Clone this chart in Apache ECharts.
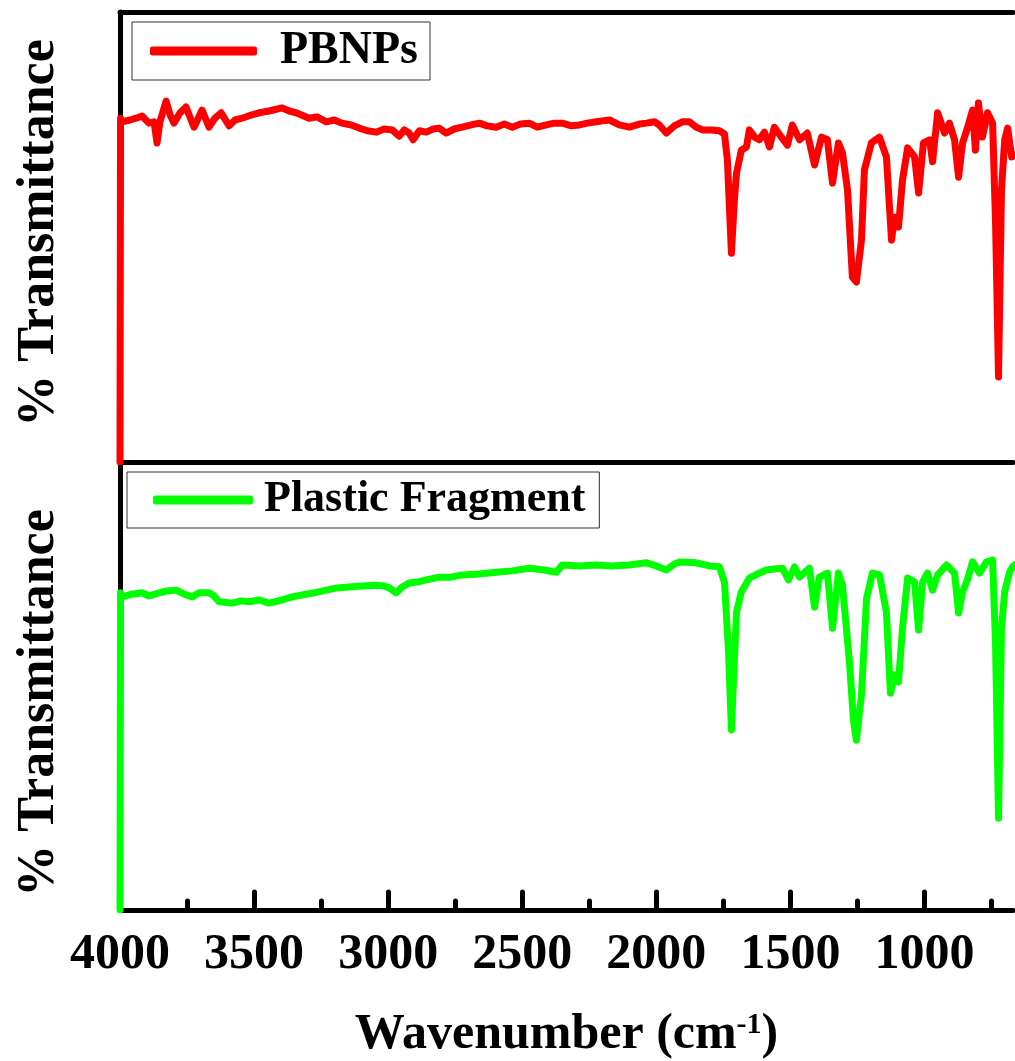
<!DOCTYPE html>
<html lang="en">
<head>
    <meta charset="UTF-8">
    <title>FTIR</title>
    <script src="https://cdn.jsdelivr.net/npm/echarts@6.0.0/dist/echarts.min.js"></script>
    <style>
        html, body { margin: 0; padding: 0; background: #fff; }
    </style>
</head>
<body>
    <div id="graph" style="width: 1015px; height: 1061px;"></div>

    <script>
        // x positions of the two spectra (cm-1)
        var pbnpWn = [4000,3998,3993,3963,3940,3918,3892,3873,3862,3851,3828,3813,3799,3776,3754,3724,3694,3668,3646,3623,3593,3571,3545,3511,3481,3444,3396,3369,3343,3295,3265,3231,3201,3172,3138,3108,3078,3045,3015,2985,2959,2940,2922,2907,2884,2858,2832,2810,2784,2754,2724,2690,2660,2631,2597,2567,2537,2507,2474,2444,2410,2381,2351,2317,2287,2257,2224,2201,2175,2138,2101,2063,2037,2007,1989,1963,1933,1903,1877,1851,1828,1795,1765,1746,1735,1720,1709,1701,1683,1664,1653,1634,1616,1597,1578,1560,1534,1511,1493,1466,1437,1410,1384,1362,1343,1321,1306,1287,1269,1254,1235,1224,1198,1168,1142,1123,1112,1097,1082,1063,1037,1022,1004,981,970,951,925,907,888,873,858,840,821,810,799,784,765,746,735,724,713,701,690,675,664];
        var pbnpT = [0,76.4,75.6,76.0,76.4,76.9,75.3,75.6,70.9,75.6,80.2,77.1,75.3,77.6,78.9,74.4,78.2,74.4,76.4,77.6,74.7,76.0,76.4,77.1,77.6,78.0,78.7,78.0,77.6,76.4,76.7,75.6,76.0,75.3,74.9,74.2,73.6,73.3,74.0,73.8,72.4,73.8,73.1,71.6,73.6,73.3,74.0,74.2,73.1,74.0,74.4,74.9,75.3,74.7,74.4,75.1,74.4,75.1,75.3,74.4,74.9,75.3,75.3,74.7,74.9,75.3,75.6,75.8,76.0,74.9,74.4,75.1,75.3,75.6,74.9,73.1,74.7,75.6,75.6,74.4,73.8,73.8,73.6,72.9,67.1,46.4,58.2,64.2,69.3,70.0,73.8,72.2,71.6,73.3,70.0,74.4,72.2,70.4,74.9,71.6,73.1,66.0,72.2,71.6,62.0,70.9,68.7,60.4,41.1,40.0,49.3,64.9,70.9,72.2,67.8,49.3,54.4,52.2,62.7,69.8,67.8,59.8,70.9,71.6,66.7,77.6,73.1,75.3,71.6,63.3,70.9,74.2,78.2,69.3,79.8,72.2,77.6,75.3,53.1,18.9,60.4,71.6,74.2,67.8,68.2];

        var fragWn = [4000,3998,3993,3955,3918,3892,3854,3825,3791,3761,3731,3705,3668,3649,3631,3582,3549,3519,3481,3444,3396,3358,3321,3276,3231,3190,3146,3097,3045,3015,2996,2970,2948,2922,2892,2858,2810,2765,2724,2660,2597,2537,2474,2418,2373,2351,2287,2224,2164,2101,2037,2000,1963,1933,1914,1851,1802,1765,1746,1731,1720,1709,1701,1683,1653,1623,1590,1560,1530,1507,1485,1466,1429,1410,1392,1362,1343,1321,1306,1280,1265,1254,1235,1216,1194,1168,1142,1127,1112,1097,1082,1063,1037,1022,1007,989,970,951,918,888,873,858,840,821,795,769,746,735,724,713,701,683,672,664];
        var fragT = [0,70.8,69.9,70.5,70.8,70.1,70.8,71.2,71.4,70.5,69.9,70.8,70.8,70.1,68.8,68.5,69.0,68.8,69.2,68.5,69.2,69.9,70.3,70.8,71.4,71.9,72.1,72.3,72.5,72.3,71.9,70.8,72.1,73.0,73.2,73.7,74.3,74.3,74.8,75.0,75.4,75.7,76.3,75.9,75.4,77.0,76.8,77.0,76.8,77.0,77.5,76.8,75.9,77.2,77.7,77.5,76.8,76.6,73.2,58.0,40.2,55.8,66.5,71.0,74.1,75.0,75.9,76.1,76.3,73.7,76.6,74.3,76.3,67.6,74.3,75.2,62.9,75.2,72.5,55.4,42.4,37.9,48.0,69.6,75.2,74.8,66.5,48.4,52.5,50.9,62.9,74.1,73.2,62.5,73.2,75.2,71.4,74.8,77.0,75.2,66.3,71.0,73.7,77.7,75.2,77.7,78.1,59.2,20.5,62.9,71.0,75.4,76.6,77.0];

        var majorTicks = [1000, 1500, 2000, 2500, 3000, 3500, 4000];
        var minorTicks = [750, 1250, 1750, 2250, 2750, 3250, 3750];
        var seriesNames = ['PBNPs', 'Plastic Fragment'];

        var FONT = '"Liberation Serif", "Times New Roman", serif';
        var XMIN = 670, XMAX = 4000;

        function pairs(xs, ys) {
            var out = [];
            for (var i = 0; i < xs.length; i++) out.push([xs[i], ys[i]]);
            return out;
        }

        function xAx(grid, pos, opts) {
            var a = {
                type: 'value', gridIndex: grid, position: pos,
                min: XMIN, max: XMAX, inverse: true,
                axisLine: { show: true, onZero: false, lineStyle: { color: '#000', width: 5 } },
                axisTick: { show: false },
                axisLabel: { show: false },
                splitLine: { show: false }
            };
            for (var k in opts) a[k] = opts[k];
            return a;
        }

        function yAx(grid, pad) {
            return {
                type: 'value', gridIndex: grid, min: 0, max: 100,
                name: '% Transmittance', nameLocation: 'middle', nameGap: 54,
                nameTextStyle: { fontFamily: FONT, fontWeight: 'bold', fontSize: 52, color: '#000', padding: pad },
                axisLine: { show: true, lineStyle: { color: '#000', width: 5 } },
                axisTick: { show: false },
                axisLabel: { show: false },
                splitLine: { show: false }
            };
        }

        var myChart = echarts.init(document.getElementById('graph'));
        var option = {
            animation: false,
            backgroundColor: '#fff',
            grid: [
                { left: 120, top: 12, width: 893, height: 450 },
                { left: 120, top: 462, width: 893, height: 448 }
            ],
            xAxis: [
                xAx(0, 'bottom', {}),
                xAx(0, 'top', {}),
                xAx(1, 'bottom', {
                    axisTick: { show: true, inside: true, length: 18, customValues: majorTicks,
                        lineStyle: { color: '#000', width: 5, cap: 'round' } },
                    axisLabel: { show: true, customValues: majorTicks, margin: 20,
                        formatter: function (v) { return String(v); },
                        fontFamily: FONT, fontWeight: 'bold', fontSize: 50, color: '#000' },
                    name: '{a|Wavenumber (cm}{s|-1}{a|)}',
                    nameLocation: 'middle', nameGap: 100,
                    nameTextStyle: {
                        rich: {
                            a: { fontFamily: FONT, fontWeight: 'bold', fontSize: 50, color: '#000' },
                            s: { fontFamily: FONT, fontWeight: 'bold', fontSize: 30, color: '#000', verticalAlign: 'top', padding: [0, 0, 20, 0] }
                        }
                    }
                }),
                xAx(1, 'bottom', {
                    axisLine: { show: false },
                    axisTick: { show: true, inside: true, length: 9, customValues: minorTicks,
                        lineStyle: { color: '#000', width: 5, cap: 'round' } }
                })
            ],
            yAxis: [yAx(0, [0, 0, 0, 8]), yAx(1, [0, 34, 0, 0])],
            legend: [
                {
                    data: [seriesNames[0]], left: 132, top: 22,
                    icon: 'roundRect',
                    borderColor: '#333', borderWidth: 1, padding: [6, 12, 6, 18],
                    itemWidth: 107, itemHeight: 9,
                    textStyle: { fontFamily: FONT, fontWeight: 'bold', fontSize: 46, color: '#000', padding: [0, 0, 0, 18] }
                },
                {
                    data: [seriesNames[1]], left: 127, top: 472,
                    icon: 'roundRect',
                    borderColor: '#333', borderWidth: 1, padding: [6, 14, 6, 26],
                    itemWidth: 100, itemHeight: 9,
                    textStyle: { fontFamily: FONT, fontWeight: 'bold', fontSize: 44, color: '#000', padding: [0, 0, 0, 6] }
                }
            ],
            series: [
                {
                    name: seriesNames[0], type: 'line', xAxisIndex: 0, yAxisIndex: 0,
                    data: pairs(pbnpWn, pbnpT), symbol: 'none', z: 3,
                    color: '#ff0000',
                    lineStyle: { color: '#ff0000', width: 7, join: 'round', cap: 'round' }
                },
                {
                    name: seriesNames[1], type: 'line', xAxisIndex: 2, yAxisIndex: 1,
                    data: pairs(fragWn, fragT), symbol: 'none', z: 3,
                    color: '#00ff00',
                    lineStyle: { color: '#00ff00', width: 7, join: 'round', cap: 'round' }
                }
            ]
        };
        myChart.setOption(option);
    </script>
</body>
</html>
